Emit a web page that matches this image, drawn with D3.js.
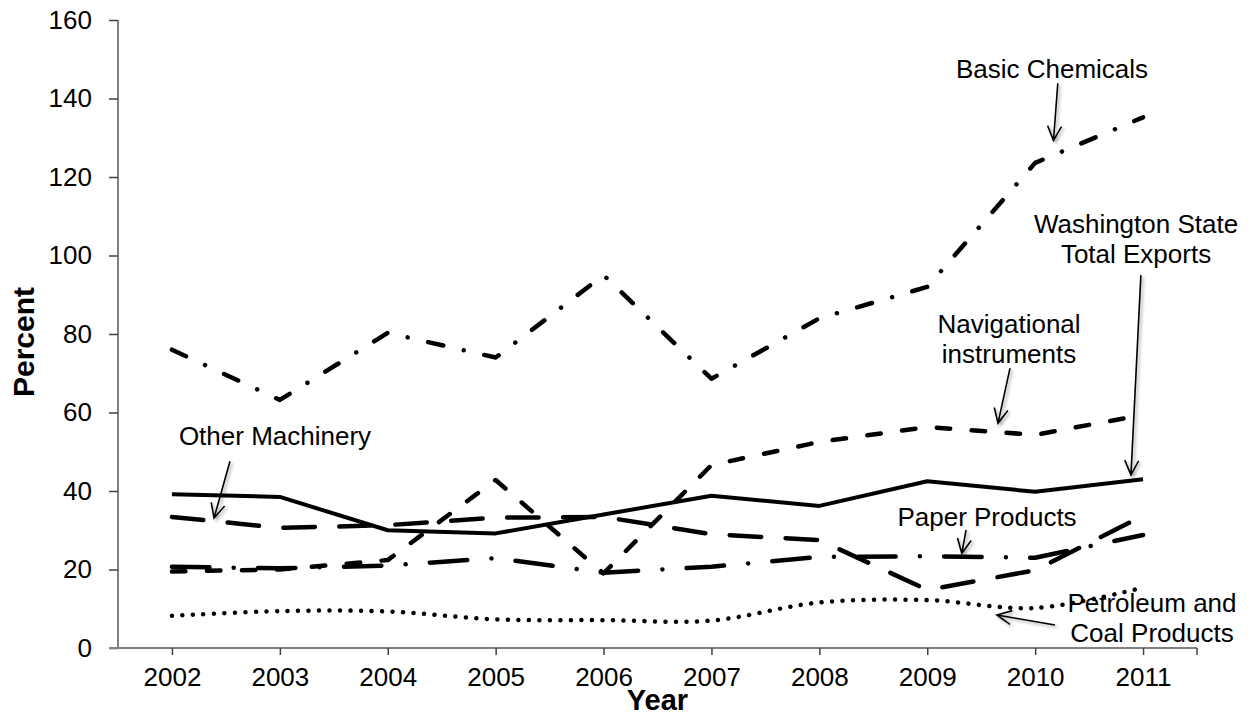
<!DOCTYPE html>
<html>
<head>
<meta charset="utf-8">
<script src="https://cdn.jsdelivr.net/npm/d3@7"></script>
<style>
  html, body { margin: 0; padding: 0; background: #fff; }
  svg { display: block; }
  text { font-family: "Liberation Sans", Arial, sans-serif; fill: #000; }
</style>
</head>
<body>
<svg id="chart" width="1252" height="717"></svg>
<script>
// ---------- data ----------
const years = [2002, 2003, 2004, 2005, 2006, 2007, 2008, 2009, 2010, 2011];
const yTicks = [0, 20, 40, 60, 80, 100, 120, 140, 160];

const basicChemicals      = [76, 63.2, 80.3, 74, 95, 68.6, 84, 92, 123.6, 135.2];
const navigational        = [19.5, 20, 22.4, 42.8, 19, 46.6, 52.5, 56.3, 54.3, 59.4];
const washingtonTotal     = [39.2, 38.5, 30, 29.2, 34, 38.8, 36.2, 42.5, 39.8, 43];
const otherMachinery      = [33.4, 30.6, 31.3, 33.2, 33.4, 29, 27.5, 14.8, 19.8, 33.7];
const paperProducts       = [20.7, 20.3, 21, 22.9, 19.2, 20.7, 23.2, 23.4, 23, 28.8];
const petroleumCoal       = [8.2, 9.4, 9.3, 7.3, 7.1, 7.0, 11.6, 12.2, 10.2, 15.4];

const seriesNames = ["Basic Chemicals", "Navigational instruments", "Washington State Total Exports",
                     "Other Machinery", "Paper Products", "Petroleum and Coal Products"];
const seriesValues = [basicChemicals, navigational, washingtonTotal, otherMachinery, paperProducts, petroleumCoal];

// annotation labels (text lines) and arrow anchors, in data units (year, percent)
const annLines = [["Basic Chemicals"], ["Washington State", "Total Exports"], ["Navigational", "instruments"],
                  ["Other Machinery"], ["Paper Products"], ["Petroleum and", "Coal Products"]];
const annText  = [[2010.156, 145.2], [2010.935, 105.7], [2009.758, 80.25], [2002.955, 51.7], [2009.554, 31.1], [2011.083, 9.17]];
const annFrom  = [[2010.21, 143.9], [2010.98, 95.0], [2009.767, 71.3], [2002.538, 47.6], [2009.36, 30.1], [2010.184, 5.86]];
const annTo    = [[2010.17, 129.3], [2010.888, 44.1], [2009.656, 57.3], [2002.39, 33.1], [2009.32, 24.1], [2009.646, 8.4]];

// ---------- layout ----------
const svg = d3.select("#chart");
const mLeft = 118, mRight = 1197, mTop = 20, mBottom = 648;

const x = d3.scaleLinear().domain([2001.5, 2011.5]).range([mLeft, mRight]);
const y = d3.scaleLinear().domain([0, 160]).range([mBottom, mTop]);

const styles = [
  { dash: "15.5,21,0.01,21", w: 4.5, curve: d3.curveLinear },
  { dash: "13.5,21.5", w: 4.5, curve: d3.curveLinear },
  { dash: null, w: 4, curve: d3.curveLinear },
  { dash: "31.5,24.5", w: 4.5, curve: d3.curveLinear },
  { dash: "37.5,24.25,0.01,24.25", w: 4.5, curve: d3.curveLinear },
  { dash: "0.01,10.5", w: 4.5, curve: d3.curveCatmullRom.alpha(0.5) }
];

const defs = svg.append("defs");
const f = defs.append("filter").attr("id", "shadow").attr("x", "-50%").attr("y", "-50%").attr("width", "200%").attr("height", "200%");
f.append("feDropShadow").attr("dx", 2).attr("dy", 2).attr("stdDeviation", 1.8).attr("flood-color", "#000").attr("flood-opacity", 0.35);

// ---------- axes ----------
const axisColor = "#808080";
const yAxis = d3.axisLeft(y).tickValues(yTicks).tickSize(9).tickPadding(17).tickFormat(d3.format("d"));
const gy = svg.append("g").attr("transform", `translate(${mLeft},0)`).call(yAxis);
gy.select(".domain").attr("stroke", axisColor).attr("stroke-width", 2).attr("d", `M0,${mTop}V${mBottom}`);
gy.selectAll(".tick line").attr("stroke", "#404040").attr("stroke-width", 1.5);
gy.selectAll(".tick text").style("font-size", "26px").attr("font-family", "Liberation Sans, Arial, sans-serif");

const xAxis = d3.axisBottom(x).tickValues(years).tickSize(7).tickPadding(13).tickFormat(d3.format("d"));
const gx = svg.append("g").attr("transform", `translate(0,${mBottom})`).call(xAxis);
gx.select(".domain").attr("stroke", axisColor).attr("stroke-width", 2).attr("d", `M${mLeft - 9},0H${mRight}`);
gx.selectAll(".tick line").attr("stroke", "#404040").attr("stroke-width", 1.5);
gx.selectAll(".tick text").style("font-size", "26px").attr("font-family", "Liberation Sans, Arial, sans-serif");
// end tick at right edge of axis
gx.append("line").attr("x1", x(2011.5)).attr("x2", x(2011.5)).attr("y1", 0).attr("y2", 7)
  .attr("stroke", "#404040").attr("stroke-width", 1.5);

// axis titles
svg.append("text").attr("transform", `translate(34,${(mTop + mBottom) / 2 + 8}) rotate(-90)`)
  .attr("text-anchor", "middle").style("font-size", "30px").style("font-weight", "bold").text("Percent");
svg.append("text").attr("x", (mLeft + mRight) / 2).attr("y", 710)
  .attr("text-anchor", "middle").style("font-size", "29px").style("font-weight", "bold").text("Year");

// ---------- lines ----------
const plot = svg.append("g");
seriesValues.forEach((vals, i) => {
  const st = styles[i];
  const line = d3.line().x((d, j) => x(years[j])).y(d => y(d)).curve(st.curve);
  plot.append("path")
    .datum(vals)
    .attr("d", line)
    .attr("fill", "none")
    .attr("stroke", "#000")
    .attr("stroke-width", st.w)
    .attr("stroke-linecap", st.dash ? "round" : "butt")
    .attr("stroke-linejoin", "round")
    .attr("stroke-dasharray", st.dash)
    .attr("data-name", seriesNames[i]);
});

// ---------- annotations ----------
const ann = svg.append("g");
annLines.forEach((lines, i) => {
  const t = ann.append("text")
    .attr("text-anchor", "middle")
    .style("font-size", "26px");
  lines.forEach((ln, k) => {
    t.append("tspan").attr("x", x(annText[i][0])).attr("y", y(annText[i][1]) + k * 30).text(ln);
  });

  const x1 = x(annFrom[i][0]), y1 = y(annFrom[i][1]);
  const x2 = x(annTo[i][0]), y2 = y(annTo[i][1]);
  const ang = Math.atan2(y2 - y1, x2 - x1);
  const hl = 16, ha = 0.45;
  const ax1 = x2 - hl * Math.cos(ang - ha), ay1 = y2 - hl * Math.sin(ang - ha);
  const ax2 = x2 - hl * Math.cos(ang + ha), ay2 = y2 - hl * Math.sin(ang + ha);
  const ag = ann.append("g").attr("filter", "url(#shadow)");
  ag.append("path")
    .attr("d", `M${x1},${y1}L${x2},${y2}M${ax1},${ay1}L${x2},${y2}L${ax2},${ay2}`)
    .attr("fill", "none").attr("stroke", "#000").attr("stroke-width", 1.6)
    .attr("stroke-linejoin", "miter");
});
</script>
</body>
</html>
